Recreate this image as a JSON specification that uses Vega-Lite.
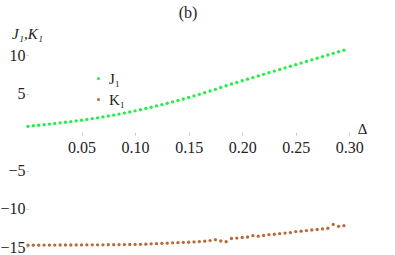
{
  "$schema": "https://vega.github.io/schema/vega-lite/v6.json",
  "width": 332,
  "height": 215,
  "autosize": {"type": "none"},
  "padding": {"left": 28, "top": 40, "right": 35, "bottom": 0},
  "background": "white",
  "title": {"text": "(b)", "anchor": "middle", "dx": -6, "offset": 5, "font": "Liberation Serif", "fontSize": 16, "fontWeight": "normal", "color": "#222"},
  "config": {"view": {"stroke": null}},
  "data": {"values": [
    {"d":0,"v":0.76,"s":"J₁"},{"d":0.005,"v":0.83,"s":"J₁"},{"d":0.01,"v":0.90,"s":"J₁"},{"d":0.015,"v":0.97,"s":"J₁"},{"d":0.02,"v":1.05,"s":"J₁"},{"d":0.025,"v":1.13,"s":"J₁"},{"d":0.03,"v":1.21,"s":"J₁"},{"d":0.035,"v":1.29,"s":"J₁"},{"d":0.04,"v":1.38,"s":"J₁"},{"d":0.045,"v":1.47,"s":"J₁"},
    {"d":0.05,"v":1.56,"s":"J₁"},{"d":0.055,"v":1.66,"s":"J₁"},{"d":0.06,"v":1.76,"s":"J₁"},{"d":0.065,"v":1.87,"s":"J₁"},{"d":0.07,"v":1.98,"s":"J₁"},{"d":0.075,"v":2.10,"s":"J₁"},{"d":0.08,"v":2.22,"s":"J₁"},{"d":0.085,"v":2.35,"s":"J₁"},{"d":0.09,"v":2.48,"s":"J₁"},{"d":0.095,"v":2.62,"s":"J₁"},
    {"d":0.1,"v":2.77,"s":"J₁"},{"d":0.105,"v":2.92,"s":"J₁"},{"d":0.11,"v":3.08,"s":"J₁"},{"d":0.115,"v":3.24,"s":"J₁"},{"d":0.12,"v":3.41,"s":"J₁"},{"d":0.125,"v":3.58,"s":"J₁"},{"d":0.13,"v":3.76,"s":"J₁"},{"d":0.135,"v":3.94,"s":"J₁"},{"d":0.14,"v":4.13,"s":"J₁"},{"d":0.145,"v":4.32,"s":"J₁"},
    {"d":0.15,"v":4.52,"s":"J₁"},{"d":0.155,"v":4.72,"s":"J₁"},{"d":0.16,"v":4.93,"s":"J₁"},{"d":0.165,"v":5.14,"s":"J₁"},{"d":0.17,"v":5.36,"s":"J₁"},{"d":0.175,"v":5.58,"s":"J₁"},{"d":0.18,"v":5.81,"s":"J₁"},{"d":0.185,"v":6.04,"s":"J₁"},{"d":0.19,"v":6.27,"s":"J₁"},{"d":0.195,"v":6.48,"s":"J₁"},
    {"d":0.2,"v":6.69,"s":"J₁"},{"d":0.205,"v":6.90,"s":"J₁"},{"d":0.21,"v":7.11,"s":"J₁"},{"d":0.215,"v":7.32,"s":"J₁"},{"d":0.22,"v":7.53,"s":"J₁"},{"d":0.225,"v":7.74,"s":"J₁"},{"d":0.23,"v":7.95,"s":"J₁"},{"d":0.235,"v":8.16,"s":"J₁"},{"d":0.24,"v":8.37,"s":"J₁"},{"d":0.245,"v":8.58,"s":"J₁"},
    {"d":0.25,"v":8.79,"s":"J₁"},{"d":0.255,"v":9.00,"s":"J₁"},{"d":0.26,"v":9.21,"s":"J₁"},{"d":0.265,"v":9.42,"s":"J₁"},{"d":0.27,"v":9.63,"s":"J₁"},{"d":0.275,"v":9.84,"s":"J₁"},{"d":0.28,"v":10.05,"s":"J₁"},{"d":0.285,"v":10.26,"s":"J₁"},{"d":0.29,"v":10.47,"s":"J₁"},{"d":0.295,"v":10.68,"s":"J₁"},
    {"d":0,"v":-14.72,"s":"K₁"},{"d":0.005,"v":-14.72,"s":"K₁"},{"d":0.01,"v":-14.72,"s":"K₁"},{"d":0.015,"v":-14.71,"s":"K₁"},{"d":0.02,"v":-14.71,"s":"K₁"},{"d":0.025,"v":-14.71,"s":"K₁"},{"d":0.03,"v":-14.70,"s":"K₁"},{"d":0.035,"v":-14.70,"s":"K₁"},{"d":0.04,"v":-14.70,"s":"K₁"},{"d":0.045,"v":-14.69,"s":"K₁"},
    {"d":0.05,"v":-14.69,"s":"K₁"},{"d":0.055,"v":-14.68,"s":"K₁"},{"d":0.06,"v":-14.68,"s":"K₁"},{"d":0.065,"v":-14.67,"s":"K₁"},{"d":0.07,"v":-14.67,"s":"K₁"},{"d":0.075,"v":-14.66,"s":"K₁"},{"d":0.08,"v":-14.66,"s":"K₁"},{"d":0.085,"v":-14.65,"s":"K₁"},{"d":0.09,"v":-14.64,"s":"K₁"},{"d":0.095,"v":-14.63,"s":"K₁"},
    {"d":0.1,"v":-14.62,"s":"K₁"},{"d":0.105,"v":-14.61,"s":"K₁"},{"d":0.11,"v":-14.59,"s":"K₁"},{"d":0.115,"v":-14.55,"s":"K₁"},{"d":0.12,"v":-14.52,"s":"K₁"},{"d":0.125,"v":-14.48,"s":"K₁"},{"d":0.13,"v":-14.46,"s":"K₁"},{"d":0.135,"v":-14.42,"s":"K₁"},{"d":0.14,"v":-14.40,"s":"K₁"},{"d":0.145,"v":-14.36,"s":"K₁"},
    {"d":0.15,"v":-14.34,"s":"K₁"},{"d":0.155,"v":-14.30,"s":"K₁"},{"d":0.16,"v":-14.25,"s":"K₁"},{"d":0.165,"v":-14.20,"s":"K₁"},{"d":0.17,"v":-14.12,"s":"K₁"},{"d":0.175,"v":-14.00,"s":"K₁"},{"d":0.18,"v":-14.18,"s":"K₁"},{"d":0.185,"v":-14.26,"s":"K₁"},{"d":0.19,"v":-13.85,"s":"K₁"},{"d":0.195,"v":-13.80,"s":"K₁"},
    {"d":0.2,"v":-13.72,"s":"K₁"},{"d":0.205,"v":-13.66,"s":"K₁"},{"d":0.21,"v":-13.48,"s":"K₁"},{"d":0.215,"v":-13.55,"s":"K₁"},{"d":0.22,"v":-13.45,"s":"K₁"},{"d":0.225,"v":-13.35,"s":"K₁"},{"d":0.23,"v":-13.30,"s":"K₁"},{"d":0.235,"v":-13.22,"s":"K₁"},{"d":0.24,"v":-13.15,"s":"K₁"},{"d":0.245,"v":-13.08,"s":"K₁"},
    {"d":0.25,"v":-12.95,"s":"K₁"},{"d":0.255,"v":-12.90,"s":"K₁"},{"d":0.26,"v":-12.82,"s":"K₁"},{"d":0.265,"v":-12.74,"s":"K₁"},{"d":0.27,"v":-12.68,"s":"K₁"},{"d":0.275,"v":-12.60,"s":"K₁"},{"d":0.28,"v":-12.52,"s":"K₁"},{"d":0.285,"v":-12.02,"s":"K₁"},{"d":0.29,"v":-12.27,"s":"K₁"},{"d":0.295,"v":-12.18,"s":"K₁"}
  ]},
  "mark": {"type": "point", "filled": true, "size": 11, "opacity": 1},
  "encoding": {
    "x": {"field": "d", "type": "quantitative",
      "scale": {"domain": [0, 0.31], "nice": false, "zero": false},
      "axis": {"title": "Δ", "orient": "bottom", "offset": -122.8, "values": [0.05, 0.1, 0.15, 0.2, 0.25, 0.3], "format": ".2f",
        "grid": false, "domain": false, "tickColor": "#c8c8c8", "tickSize": 3, "labelPadding": 4,
        "labelFont": "Liberation Serif", "labelFontSize": 16, "labelColor": "#222",
        "titleFont": "Liberation Serif", "titleFontSize": 15, "titleFontWeight": "normal", "titleColor": "#222",
        "titleX": 334, "titleY": 1, "titleAlign": "center", "titleBaseline": "alphabetic", "titleAnchor": null}},
    "y": {"field": "v", "type": "quantitative",
      "scale": {"domain": [-16, 12], "nice": false, "zero": false},
      "axis": {"title": "J₁,K₁", "values": [-15, -10, -5, 5, 10], "grid": false, "domain": false,
        "tickColor": "#c8c8c8", "tickSize": 2, "labelPadding": 1,
        "labelFont": "Liberation Serif", "labelFontSize": 16, "labelColor": "#222",
        "titleFont": "Liberation Serif", "titleFontSize": 15, "titleFontStyle": "italic", "titleFontWeight": "normal", "titleColor": "#222",
        "titleAngle": 0, "titleX": -1, "titleY": -2, "titleAlign": "center", "titleBaseline": "alphabetic"}},
    "color": {"field": "s", "type": "nominal",
      "scale": {"domain": ["J₁", "K₁"], "range": ["#1ef046", "#b86b3a"]},
      "legend": {"title": null, "orient": "none", "legendX": 63, "legendY": 31, "symbolType": "circle", "symbolSize": 9,
        "labelFont": "Liberation Serif", "labelFontSize": 15, "labelColor": "#222", "labelOffset": 3, "rowPadding": 5, "padding": 0}}
  }
}
